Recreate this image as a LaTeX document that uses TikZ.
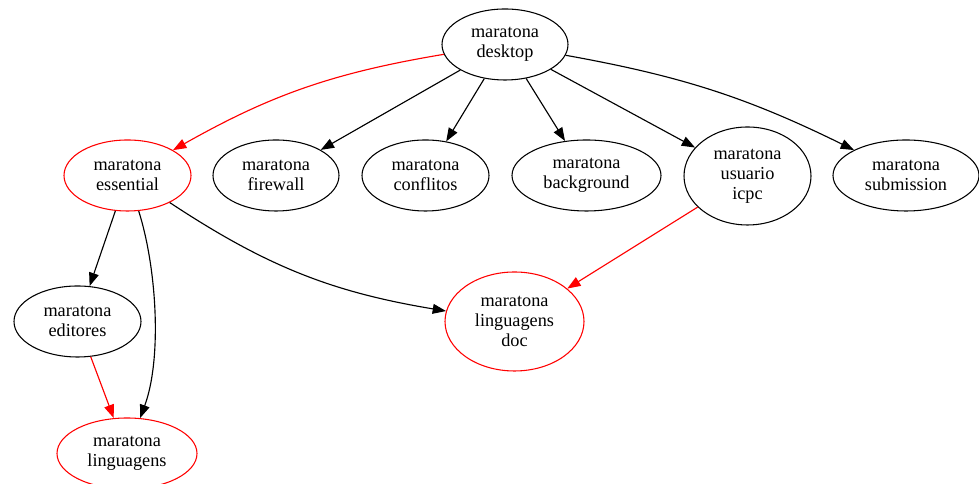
\documentclass[tikz,border=0pt]{standalone}
\usepackage{fontspec}
\setmainfont{Liberation Serif}
\usetikzlibrary{arrows.meta, shapes.geometric}

\tikzset{
  pkg/.style={ellipse, draw, line width=0.8pt, inner sep=0pt, align=center,
    font=\fontsize{13.7}{15}\selectfont},
  dims/.style 2 args={minimum width=#1*0.75pt, minimum height=#2*0.75pt},
  core/.style={pkg, draw=red},
  dep/.style={line width=0.85pt, -{Triangle[length=10pt,width=7.4pt]}},
  reddep/.style={dep, red}
}

\begin{document}
\begin{tikzpicture}[x=0.75pt, y=0.75pt]
  \useasboundingbox (0,0) rectangle (979,484);
  % Packages
  \node[pkg, dims={126}{71}] (desktop) at (505,439.5) {maratona\\desktop};
  \node[core, dims={127}{71}] (essential) at (127.5,308.5) {maratona\\essential};
  \node[pkg, dims={126}{71}] (firewall) at (276,308.5) {maratona\\firewall};
  \node[pkg, dims={127}{71}] (conflitos) at (425.5,308.5) {maratona\\conflitos};
  \node[pkg, dims={149}{71}] (background) at (586.5,308.5) {maratona\\background};
  \node[pkg, dims={127}{98}] (usuario) at (747.5,308) {maratona\\usuario\\icpc};
  \node[pkg, dims={146}{71}] (submission) at (906,308.5) {maratona\\submission};
  \node[pkg, dims={127}{71}] (editores) at (77.5,162.5) {maratona\\editores};
  \node[core, dims={139}{99}] (doc) at (514.5,162.5) {maratona\\linguagens\\doc};
  \node[core, dims={140}{71}] (linguagens) at (127,30.5) {maratona\\linguagens};
  % Dependencies
  \draw[reddep] (desktop) to[bend right=10] (essential);
  \foreach \t in {firewall,conflitos,background,usuario}
    \draw[dep] (desktop) -- (\t);
  \draw[dep] (desktop) to[bend left=8] (submission);
  \draw[dep] (essential) -- (editores);
  \draw[dep] (essential) .. controls (157,215) and (162,125) .. (linguagens);
  \draw[dep] (essential) to[bend right=12] (doc);
  \draw[reddep] (usuario) -- (doc);
  \draw[reddep] (editores) -- (linguagens);
\end{tikzpicture}
\end{document}
